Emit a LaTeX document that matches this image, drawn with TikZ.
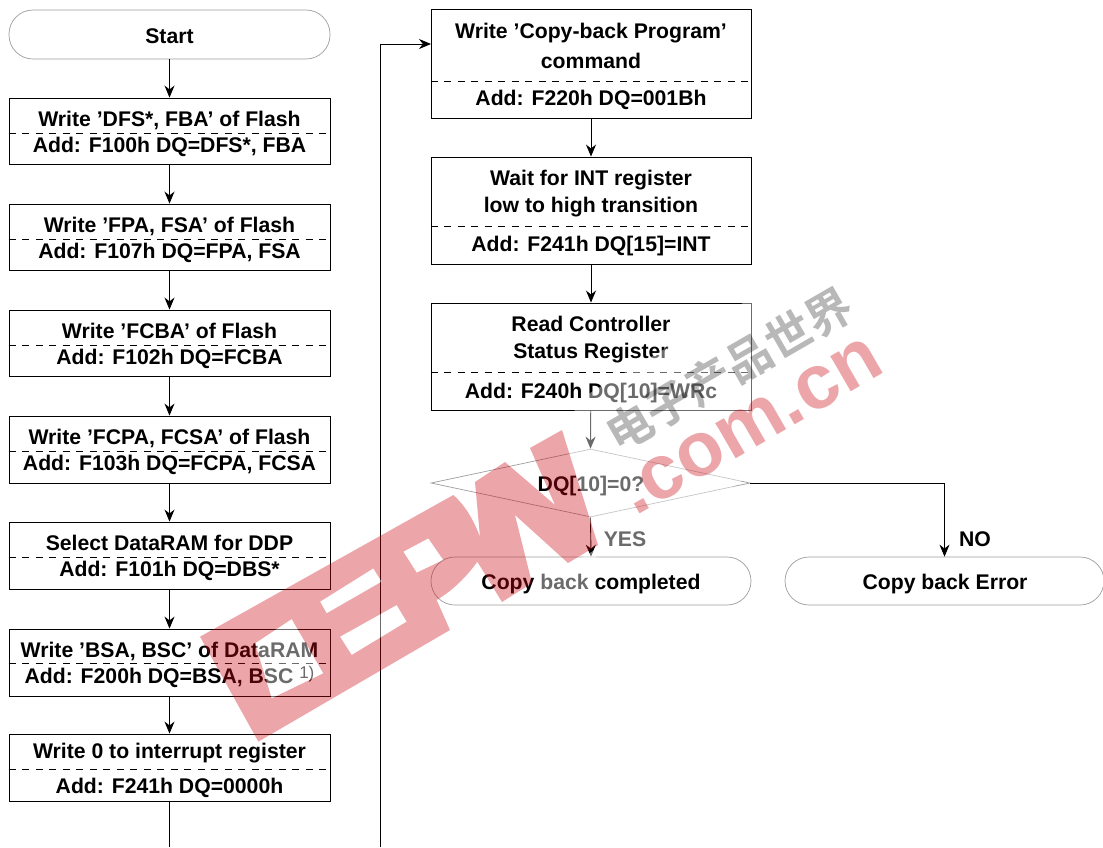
\documentclass[tikz,border=0pt]{standalone}
\usepackage{fontspec}
\setmainfont{Liberation Sans}
\newfontfamily\cjkwm{Noto Sans CJK SC}[BoldFont=* Bold]
\usetikzlibrary{arrows.meta,shapes.geometric}
\definecolor{softline}{gray}{0.62}
\definecolor{wmred}{RGB}{205,10,20}
\tikzset{
  flowbox/.style={draw=black,line width=0.9pt,rectangle,inner sep=0pt,fill=none},
  pill/.style={draw=softline,line width=0.7pt,rectangle,rounded corners=24pt,inner sep=0pt},
  decision/.style={draw=softline,line width=0.7pt,diamond,inner sep=0pt,aspect=4.69},
  txt/.style={inner sep=0pt,font=\fontsize{21.2}{25}\selectfont\bfseries,text height=17pt,text depth=2pt},
  sepline/.style={draw=black,line width=0.8pt,dash pattern=on 7pt off 6.5pt},
  conn/.style={draw=black,line width=0.9pt,-{Stealth[length=12pt,width=10pt]}},
  plainconn/.style={draw=black,line width=0.9pt},
  wmhalo/.style={fill=white,opacity=0.42,draw=none},
  wmfill/.style={fill=wmred,fill opacity=0.36,draw=none},
  wmcn/.style={inner sep=0pt,text=black,text opacity=0.28,font=\fontsize{46}{46}\selectfont\cjkwm\bfseries,rotate=30},
  wmdot/.style={inner sep=0pt,text=wmred,text opacity=0.36,font=\fontsize{77}{77}\selectfont\bfseries,rotate=30,anchor=base west},
}
\begin{document}
\begin{tikzpicture}[x=1pt,y=-1pt]
\useasboundingbox (0,0) rectangle (1103,847);
\fill[white] (0,0) rectangle (1103,847);
\clip (0,0) rectangle (1103,847);

% left column
\node[pill,minimum width=321pt,minimum height=49pt] (start) at (169.5,34.5) {};
\node[txt] (startt) at (169.5,36) {Start};
\foreach \nm/\t/\b/\d/\ya/\yb/\la/\lb in {
 b1/98/164/133/119/145/{Write ’DFS*, FBA’ of Flash}/{Add: F100h DQ=DFS*, FBA},
 b2/204/270/239/225/251/{Write ’FPA, FSA’ of Flash}/{Add: F107h DQ=FPA, FSA},
 b3/310/376/345/331/357/{Write ’FCBA’ of Flash}/{Add: F102h DQ=FCBA},
 b4/416/483/451/437/463/{Write ’FCPA, FCSA’ of Flash}/{Add: F103h DQ=FCPA, FCSA},
 b5/522/589/557/543/569/{Select DataRAM for DDP}/{Add: F101h DQ=DBS*},
 b6/629/696/663/650/676/{Write ’BSA, BSC’ of DataRAM}/{Add: F200h DQ=BSA, BSC \raisebox{5pt}{\fontsize{17}{17}\selectfont\mdseries 1)}},
 b7/734/801/769/751/786/{Write 0 to interrupt register}/{Add: F241h DQ=0000h}}{
  \pgfmathsetmacro{\hh}{\b-\t}
  \pgfmathsetmacro{\cc}{(\b+\t)/2}
  \node[flowbox,minimum width=321pt,minimum height=\hh pt] (\nm) at (169.5,\cc) {};
  \coordinate (\nm dash) at (0,\d);
  \draw[sepline] (\nm.west |- \nm dash) -- (\nm.east |- \nm dash);
  \node[txt] (\nm a) at (169.5,\ya) {\la};
  \node[txt] (\nm b) at (169.5,\yb) {\lb};
}
\draw[conn] (start) -- (b1);
\draw[conn] (b1) -- (b2);
\draw[conn] (b2) -- (b3);
\draw[conn] (b3) -- (b4);
\draw[conn] (b4) -- (b5);
\draw[conn] (b5) -- (b6);
\draw[conn] (b6) -- (b7);
\coordinate (exitA) at (169.5,847);
\draw[plainconn] (b7) -- (exitA);

% right column
\node[flowbox,minimum width=320pt,minimum height=109pt] (ra) at (591,63.5) {};
\coordinate (radash) at (0,81);
\draw[sepline] (ra.west |- radash) -- (ra.east |- radash);
\node[txt] (ra1) at (591,31) {Write ’Copy-back Program’};
\node[txt] (ra2) at (591,61) {command};
\node[txt] (ra3) at (591,98) {Add: F220h DQ=001Bh};

\node[flowbox,minimum width=320pt,minimum height=107pt] (rb) at (591,210.5) {};
\coordinate (rbdash) at (0,226);
\draw[sepline] (rb.west |- rbdash) -- (rb.east |- rbdash);
\node[txt] (rb1) at (591,178) {Wait for INT register};
\node[txt] (rb2) at (591,205) {low to high transition};
\node[txt] (rb3) at (591,244) {Add: F241h DQ[15]=INT};

\node[flowbox,minimum width=320pt,minimum height=107pt] (rc) at (591,356.5) {};
\coordinate (rcdash) at (0,372);
\draw[sepline] (rc.west |- rcdash) -- (rc.east |- rcdash);
\node[txt] (rc1) at (591,324) {Read Controller};
\node[txt] (rc2) at (591,351) {Status Register};
\node[txt] (rc3) at (591,391) {Add: F240h DQ[10]=WRc};

\node[decision,minimum width=319pt,minimum height=68pt] (dec) at (590.5,483) {};
\node[txt] (dect) at (591,484) {DQ[10]=0?};
\node[pill,minimum width=320pt,minimum height=48pt] (done) at (591,581) {};
\node[txt] (donet) at (591,582) {Copy back completed};
\node[pill,minimum width=319pt,minimum height=48pt] (err) at (944.5,581) {};
\node[txt] (errt) at (945,582) {Copy back Error};
\node[txt] (yes) at (625,539) {YES};
\node[txt] (no) at (975,539) {NO};

\coordinate (loopB) at (380,847);
\coordinate (loopT) at (380,44);
\coordinate (loopE) at (431,44);
\draw[conn] (loopB) -- (loopT) -- (loopE);
\draw[conn] (ra) -- (rb);
\draw[conn] (rb) -- (rc);
\draw[conn] (rc) -- (dec.north);
\draw[conn] (dec.south) -- (done.north);
\draw[conn] (dec.east) -| (err.north);

% watermark: translucent halo, logo, site name
\fill[wmhalo] (578,400) -- (743,303) -- (860,240) -- (905,370) -- (745,478) -- (640,556) -- (596,556) -- (596,597) -- (540,597) -- (535,570) -- (568,566) -- (598,548) -- (565,440) -- cycle;
\begin{scope}[shift={(190,420)},x=0.33333pt,y=-0.33333pt]
  \fill[wmhalo] (195,670) -- (305,597) -- (400,760) -- (245,835) -- cycle;
  \fill[wmhalo] (390,545) -- (550,445) -- (575,485) -- (410,580) -- cycle;
  \fill[wmhalo] (450,650) -- (620,555) -- (650,605) -- (485,705) -- cycle;
  \fill[wmhalo] (640,395) -- (715,355) -- (760,420) -- (680,458) -- cycle;
  \fill[wmfill,even odd rule]
    (30,650) -- (790,225) .. controls (830,260) and (855,310) .. (870,351)
    -- (855,186) -- (945,126) -- (1095,255) -- (1020,84) -- (1116,30)
    -- (1224,375) -- (1134,429) -- (975,285) -- (1026,489) -- (936,546) -- (862,425)
    .. controls (830,470) and (790,510) .. (740,540)
    -- (780,630) -- (205,965) -- cycle
    (195,670) -- (305,597) -- (400,760) -- (245,835) -- cycle
    (390,545) -- (550,445) -- (575,485) -- (410,580) -- cycle
    (450,650) -- (620,555) -- (650,605) -- (485,705) -- cycle
    (640,395) -- (715,355) -- (760,420) -- (680,458) -- cycle;
\end{scope}
\node[wmcn] (wmcn) at (729,370) {电子产品世界};
\node[wmdot] (wmcom) at (635,517) {.com.cn};
\end{tikzpicture}
\end{document}
